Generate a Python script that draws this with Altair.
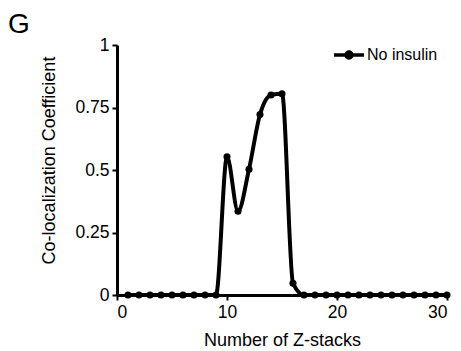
import altair as alt
import pandas as pd

z_stacks = list(range(1, 31))
coloc = [0, 0, 0, 0, 0, 0, 0, 0, 0,
         0.553, 0.335, 0.503, 0.722, 0.800, 0.805, 0.047,
         0, 0, 0, 0, 0, 0, 0, 0, 0, 0, 0, 0, 0, 0]
series = ["No insulin"] * len(z_stacks)
x_ticks = [0, 10, 20, 30]
y_ticks = [0, 0.25, 0.5, 0.75, 1]

df = pd.DataFrame({"z": z_stacks, "c": coloc, "s": series})
FONT = "Liberation Sans"

color = alt.Color(
    "s:N",
    scale=alt.Scale(range=["black"]),
    legend=alt.Legend(
        title=None, orient="none", legendX=215, legendY=-7, padding=0,
        symbolType="M-1,0L1,0M-0.2,0A0.2,0.2 0 1,0 0.2,0A0.2,0.2 0 1,0 -0.2,0",
        symbolSize=900, symbolStrokeWidth=3.5, symbolFillColor="black",
        symbolStrokeColor="black", labelFont=FONT, labelFontSize=16,
        labelColor="black", labelOffset=1,
    ),
)

x = alt.X("z:Q", scale=alt.Scale(domain=[0, 30], nice=False, zero=False),
          axis=alt.Axis(values=x_ticks, title="Number of Z-stacks", grid=False,
                        titleY=50, titleBaseline="alphabetic"))
y = alt.Y("c:Q", scale=alt.Scale(domain=[0, 1], nice=False),
          axis=alt.Axis(values=y_ticks, title="Co-localization Coefficient",
                        grid=False, labelExpr="datum.value + ''",
                        titleX=-68, titleY=115, titleAngle=-90,
                        titleAlign="center", titleBaseline="middle"))

line = alt.Chart(df).mark_line(interpolate="monotone", strokeWidth=4).encode(
    x=x, y=y, color=color)
pts = alt.Chart(df).mark_point(filled=True, size=50, opacity=1).encode(
    x="z:Q", y="c:Q", color=alt.Color("s:N", legend=None))

label_g = alt.Chart(pd.DataFrame({"t": ["G"]})).mark_text(
    font=FONT, fontSize=28, align="left", baseline="alphabetic", color="black"
).encode(x=alt.value(-109), y=alt.value(-12), text="t:N")

chart = alt.layer(line, pts, label_g).properties(
    width=330, height=250,
    autosize=alt.AutoSizeParams(type="none"),
    padding={"left": 117, "top": 45, "right": 14, "bottom": 56},
).configure_view(stroke=None).configure_axis(
    domainColor="black", domainWidth=3, tickColor="black", tickWidth=2,
    tickSize=5, labelFont=FONT, labelFontSize=17.5, labelColor="black",
    titleFont=FONT, titleFontSize=18, titleFontWeight="normal",
    titleColor="black", labelPadding=3,
)

chart.save("out.html", embed_options={"renderer": "svg", "actions": False})
